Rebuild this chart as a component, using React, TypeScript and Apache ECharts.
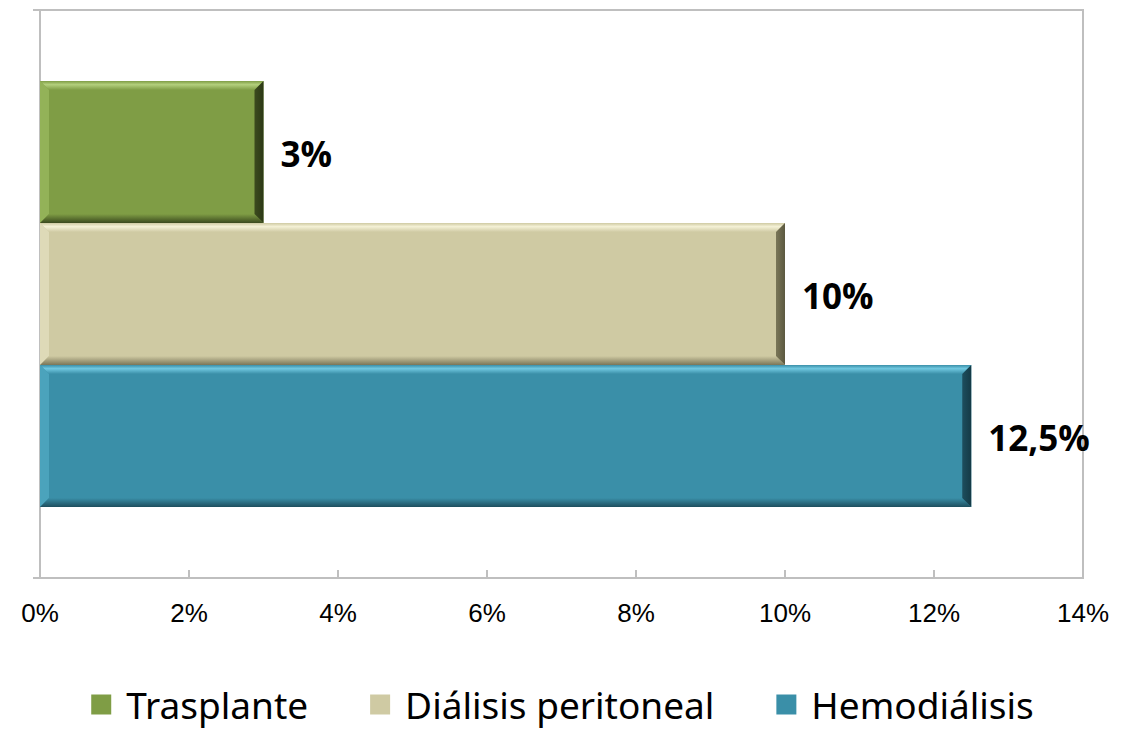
import React, { useEffect, useRef } from "react";
import * as echarts from "echarts";

const seriesNames = ["Trasplante", "Diálisis peritoneal", "Hemodiálisis"];
const seriesValues = [0.03, 0.1, 0.125];
const valueLabels = ["3%", "10%", "12,5%"];
const xTicks = [0, 0.02, 0.04, 0.06, 0.08, 0.1, 0.12, 0.14];
const categories = [""];

const palette = [
  { base: "#7F9D45", light: "#B3CF7C", side: "#93B258", dark: "#3B4A1E", darker: "#2C3816" },
  { base: "#CFCAA3", light: "#F4F1D6", side: "#DEDAB8", dark: "#7A7658", darker: "#5C5940" },
  { base: "#3A8FA8", light: "#70C8E0", side: "#4BA3BC", dark: "#1D4E5E", darker: "#143A46" },
];

export default function App() {
  const ref = useRef<HTMLDivElement>(null);
  useEffect(() => {
    document.body.style.margin = "0";
    if (!ref.current) return;
    const chart = echarts.init(ref.current, null, { renderer: "svg" });
    const makeRender = (k: number) => (params: any, api: any) => {
      const v = api.value(0);
      const c = api.value(1);
      const p0 = api.coord([0, c]);
      const p1 = api.coord([v, c]);
      const band = api.size([0, 1])[1];
      const barH = (band * 0.75) / 3;
      const T = p0[1] - 1.5 * barH + k * barH;
      const B = T + barH;
      const L = p0[0];
      const R = p1[0];
      const b = 9;
      const col = palette[k];
      return {
        type: "group",
        children: [
          { type: "rect", shape: { x: L, y: T, width: R - L, height: B - T }, style: { fill: col.base } },
          {
            type: "polygon",
            shape: { points: [[L, T], [R, T], [R - b, T + b], [L + b, T + b]] },
            style: {
              fill: new echarts.graphic.LinearGradient(0, 0, 0, 1, [
                { offset: 0, color: col.base },
                { offset: 0.4, color: col.light },
                { offset: 1, color: col.base },
              ]),
            },
          },
          {
            type: "polygon",
            shape: { points: [[L, T], [L + b, T + b], [L + b, B - b], [L, B]] },
            style: { fill: col.side },
          },
          {
            type: "polygon",
            shape: { points: [[L, B], [R, B], [R - b, B - b], [L + b, B - b]] },
            style: {
              fill: new echarts.graphic.LinearGradient(0, 0, 0, 1, [
                { offset: 0, color: col.base },
                { offset: 1, color: col.dark },
              ]),
            },
          },
          {
            type: "polygon",
            shape: { points: [[R, T], [R, B], [R - b, B - b], [R - b, T + b]] },
            style: {
              fill: new echarts.graphic.LinearGradient(0, 0, 1, 0, [
                { offset: 0, color: col.dark },
                { offset: 1, color: col.darker },
              ]),
            },
          },
          {
            type: "text",
            x: R + 17,
            y: (T + B) / 2 + 1,
            style: {
              text: valueLabels[k],
              fill: "#000",
              font: 'bold 35px "Open Sans", "Noto Sans", sans-serif',
              verticalAlign: "middle",
              align: "left",
            },
          },
        ],
      };
    };
    chart.setOption({
      animation: false,
      backgroundColor: "#fff",
      grid: {
        left: 40,
        right: 42,
        top: 10,
        bottom: 152,
        show: true,
        borderColor: "#bfbfbf",
        borderWidth: 2,
      },
      legend: {
        data: seriesNames,
        top: 686,
        left: "center",
        padding: 0,
        icon: "rect",
        itemWidth: 20,
        itemHeight: 20,
        itemGap: 62,
        textStyle: {
          fontSize: 37,
          fontFamily: '"Noto Sans", sans-serif',
          color: "#000",
          padding: [0, 0, 0, 10],
        },
      },
      xAxis: {
        type: "value",
        min: 0,
        max: 0.14,
        interval: 0.02,
        axisLine: { show: true, lineStyle: { color: "#bfbfbf", width: 2 } },
        axisTick: { show: true, inside: true, length: 8, lineStyle: { color: "#bfbfbf", width: 2 } },
        splitLine: { show: false },
        axisLabel: {
          margin: 22,
          fontSize: 26,
          fontFamily: '"Liberation Sans", Arial, sans-serif',
          color: "#000",
          formatter: (v: number) => {
            const i = xTicks.findIndex((t) => Math.abs(t - v) < 1e-9);
            return Math.round((i >= 0 ? xTicks[i] : v) * 100) + "%";
          },
        },
      },
      yAxis: {
        type: "category",
        data: categories,
        axisLine: { show: true, lineStyle: { color: "#bfbfbf", width: 2 } },
        axisTick: { show: true, length: 7, lineStyle: { color: "#bfbfbf", width: 2 } },
        axisLabel: { show: false },
      },
      series: seriesNames.map((name, k) => ({
        type: "custom",
        name,
        itemStyle: { color: palette[k].base },
        encode: { x: 0, y: 1 },
        data: [[seriesValues[k], 0]],
        renderItem: makeRender(k),
      })),
    });
    return () => chart.dispose();
  }, []);
  return <div ref={ref} style={{ width: 1125, height: 730 }} />;
}
